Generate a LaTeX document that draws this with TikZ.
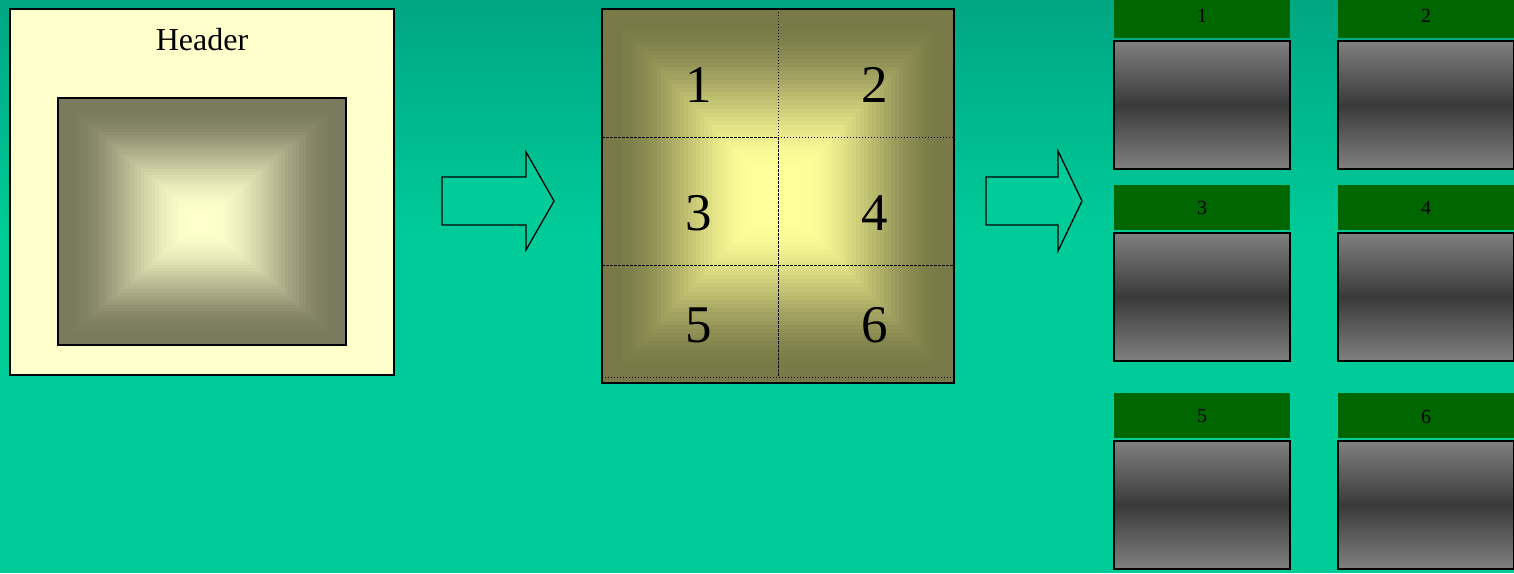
\documentclass[tikz,border=0pt]{standalone}
\usepackage{fontspec}
\setmainfont{Liberation Serif}
\definecolor{bgtop}{RGB}{0,166,130}
\definecolor{bgbot}{RGB}{0,204,153}
\definecolor{cream}{RGB}{255,255,204}
\definecolor{olivedark}{RGB}{122,122,94}
\definecolor{midedge}{RGB}{122,122,72}
\definecolor{midcenter}{RGB}{255,255,153}
\definecolor{tilegreen}{RGB}{0,102,0}
\definecolor{arrowfill}{RGB}{0,204,153}
\definecolor{graylight}{RGB}{128,128,128}
\definecolor{graydark}{RGB}{58,58,58}
\tikzset{
  frame/.style={draw=black, line width=1.3pt, inner sep=0pt, outer sep=0pt, anchor=north west},
  tilehead/.style={fill=tilegreen, inner sep=0pt, outer sep=0pt, anchor=north west, minimum width=176pt, minimum height=45pt},
  tilebody/.style={draw=black, line width=1.6pt, top color=graylight, bottom color=graylight, middle color=graydark, inner sep=0pt, outer sep=0pt, anchor=north west, minimum width=176pt, minimum height=128pt},
  tilelabel/.style={font=\fontsize{20}{22}\selectfont, inner sep=0pt},
  biglabel/.style={font=\fontsize{53}{58}\selectfont, inner sep=0pt},
  blockarrow/.style={draw=black, line width=1.3pt, fill=arrowfill, line join=miter},
  densedash/.style={line width=1pt, dash pattern=on 3pt off 1pt},
  dotline/.style={line width=1pt, dash pattern=on 1pt off 2pt},
}
\begin{document}
\begin{tikzpicture}[x=1pt,y=-1pt]
\useasboundingbox (0,0) rectangle (1514,573);
% background
\fill[bgbot] (0,0) rectangle (1514,573);
\shade[top color=bgtop, bottom color=bgbot] (0,0) rectangle (1514,240);

% ---------- left box ----------
\node[frame, fill=cream, minimum width=384pt, minimum height=366pt] (src) at (10,9) {};
\node[font=\fontsize{32}{36}\selectfont, inner sep=0pt] (hdr) at (202,40) {Header};
\foreach \i in {0,...,39} {
  \pgfmathsetmacro\t{\i/40}
  \pgfmathsetmacro\u{min(1,max(0,(\t-0.05)/0.88))}
  \pgfmathsetmacro\p{100*\u*\u*(3-2*\u)}
  \pgfmathsetmacro\hx{144*(1-\t)}
  \pgfmathsetmacro\hy{123.5*(1-\t)}
  \fill[cream!\p!olivedark] ({202-\hx},{221.5-\hy}) rectangle ({202+\hx},{221.5+\hy});
}
\node[frame, minimum width=288pt, minimum height=247pt] (inner) at (58,98) {};

% ---------- arrows ----------
\coordinate (a1) at (442,177);
\draw[blockarrow] (a1) -- (526,177) -- (526,152) -- (554,201) -- (526,250) -- (526,225) -- (442,225) -- cycle;
\coordinate (a2) at (986,177);
\draw[blockarrow] (a2) -- (1058,177) -- (1058,151) -- (1082,201) -- (1058,251) -- (1058,225) -- (986,225) -- cycle;

% ---------- middle box ----------
\foreach \i in {0,...,44} {
  \pgfmathsetmacro\t{\i/45}
  \pgfmathsetmacro\u{min(1,max(0,(\t-0.06)/0.8))}
  \pgfmathsetmacro\p{100*\u*\u*(3-2*\u)}
  \pgfmathsetmacro\hx{176*(1-\t)}
  \pgfmathsetmacro\hy{187*(1-\t)}
  \fill[midcenter!\p!midedge] ({778-\hx},{196-\hy}) rectangle ({778+\hx},{196+\hy});
}
\node[frame, minimum width=352pt, minimum height=374pt] (grid) at (602,9) {};
\draw[dotline] (778,9) -- (778,137);
\draw[densedash] (602,137) -- (778,137);
\draw[dotline] (778,137) -- (954,137);
\draw[densedash] (778,137) -- (778,377);
\draw[densedash] (602,265) -- (954,265);
\draw[dotline] (602,377) -- (954,377);
\node[biglabel] (n1) at (699,85) {1};
\node[biglabel] (n2) at (875,85) {2};
\node[biglabel] (n3) at (699,213) {3};
\node[biglabel] (n4) at (875,213) {4};
\node[biglabel] (n5) at (699,325) {5};
\node[biglabel] (n6) at (875,325) {6};

% ---------- right tiles ----------
\node[tilehead] (h1) at (1114,-7) {};
\node[tilehead] (h2) at (1338,-7) {};
\node[tilehead] (h3) at (1114,185) {};
\node[tilehead] (h4) at (1338,185) {};
\node[tilehead] (h5) at (1114,393) {};
\node[tilehead] (h6) at (1338,393) {};
\node[tilelabel] (l1) at (1202,15.8) {1};
\node[tilelabel] (l2) at (1426,15.8) {2};
\node[tilelabel] (l3) at (1202,207.5) {3};
\node[tilelabel] (l4) at (1426,207.5) {4};
\node[tilelabel] (l5) at (1202,416.5) {5};
\node[tilelabel] (l6) at (1426,416.5) {6};
\node[tilebody] (g1) at (1114,41) {};
\node[tilebody] (g2) at (1338,41) {};
\node[tilebody] (g3) at (1114,233) {};
\node[tilebody] (g4) at (1338,233) {};
\node[tilebody] (g5) at (1114,441) {};
\node[tilebody] (g6) at (1338,441) {};
\end{tikzpicture}
\end{document}
